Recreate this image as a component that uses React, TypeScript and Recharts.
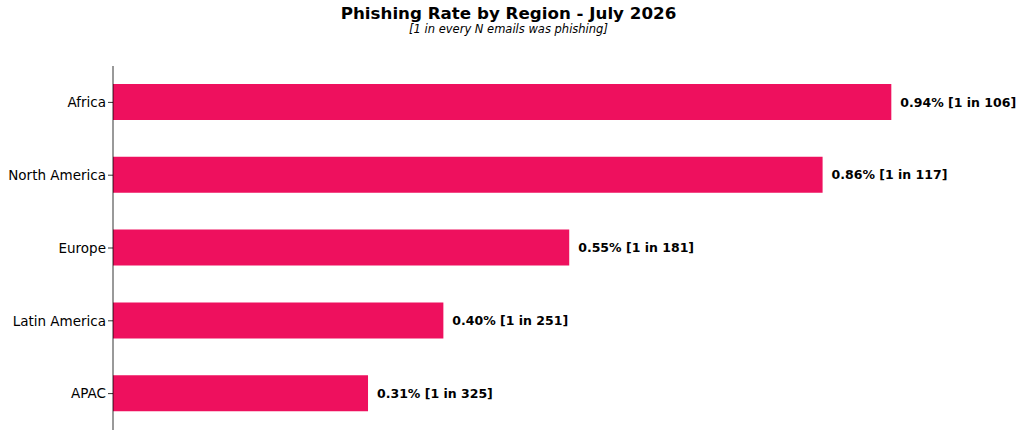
import { BarChart, Bar, XAxis, YAxis, LabelList } from 'recharts';

const REGIONS = ['Africa', 'North America', 'Europe', 'Latin America', 'APAC'];
const RATES = [0.94, 0.857, 0.551, 0.399, 0.308];
const ONE_IN = [106, 117, 181, 251, 325];

const TITLE = 'Phishing Rate by Region - July 2026';
const SUBTITLE = '[1 in every N emails was phishing]';

const BAR_COLOR = '#EE105E';
const FONT = '"DejaVu Sans", sans-serif';

const chartData = REGIONS.map((name, i) => ({
  name,
  rate: RATES[i],
  label: `${RATES[i].toFixed(2)}% [1 in ${ONE_IN[i]}]`,
}));

// value label to the right of each bar, kept on one line
const ValueLabel = (props: any) => {
  const { x, y, width, height, value } = props;
  return (
    <text
      x={Number(x) + Number(width) + 9}
      y={Number(y) + Number(height) / 2}
      dy="0.36em"
      fontFamily={FONT}
      fontWeight="bold"
      fontSize={12.5}
      fill="#000"
    >
      {value}
    </text>
  );
};

export default function App() {
  return (
    <div style={{ position: 'relative', width: 1024, height: 436, background: '#fff', fontFamily: FONT }}>
      <style>{'body{margin:0}'}</style>
      <svg width={1024} height={40} style={{ position: 'absolute', left: 0, top: 0 }}>
        <text x={508.5} y={19} textAnchor="middle" fontFamily={FONT} fontWeight="bold" fontSize={16.7} fill="#000">
          {TITLE}
        </text>
        <text x={508.5} y={33} textAnchor="middle" fontFamily={FONT} fontStyle="italic" fontSize={11.5} fill="#000">
          {SUBTITLE}
        </text>
      </svg>
      <BarChart
        width={1024}
        height={436}
        data={chartData}
        layout="vertical"
        margin={{ top: 66, right: 83, bottom: 6, left: 0 }}
      >
        <XAxis type="number" domain={[0, 1]} hide />
        <YAxis
          type="category"
          dataKey="name"
          width={113}
          axisLine={{ stroke: '#000', strokeWidth: 0.8 }}
          tickLine={{ stroke: '#000', strokeWidth: 0.8 }}
          tickSize={5}
          tickMargin={2}
          tick={{ fontSize: 13.5, fill: '#000', fontFamily: FONT }}
        />
        <Bar dataKey="rate" fill={BAR_COLOR} barSize={36} isAnimationActive={false}>
          <LabelList dataKey="label" content={ValueLabel} />
        </Bar>
      </BarChart>
    </div>
  );
}
